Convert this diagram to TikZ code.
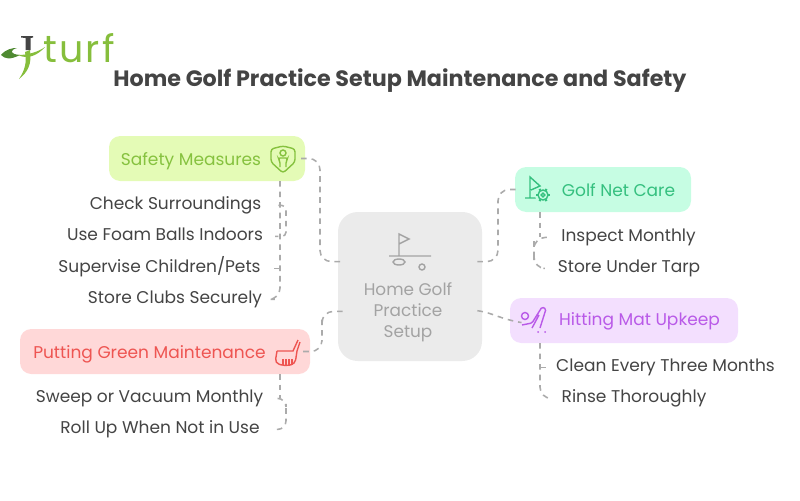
\documentclass[tikz,border=0pt]{standalone}
\usepackage{fontspec}
\setmainfont{Poppins}
\usetikzlibrary{positioning}
\definecolor{inkdark}{HTML}{444444}
\definecolor{inkhub}{HTML}{A3A3A3}
\definecolor{linkgray}{HTML}{ABABAB}
\definecolor{hubfill}{HTML}{EBEBEB}
\definecolor{safetyfill}{HTML}{E4FBB6}
\definecolor{safetyink}{HTML}{86C23F}
\definecolor{netfill}{HTML}{C6FDE3}
\definecolor{netink}{HTML}{35C07F}
\definecolor{hitfill}{HTML}{F3DFFE}
\definecolor{hitink}{HTML}{B95AE8}
\definecolor{puttfill}{HTML}{FFD8D8}
\definecolor{puttink}{HTML}{EE5552}
\definecolor{logogreen}{HTML}{86BE3C}
\definecolor{logodark}{HTML}{4F8A32}
\tikzset{
    box/.style={rounded corners=8pt, inner sep=0pt},
    boxtext/.style={font=\fontsize{12.1}{14}\selectfont, inner sep=0pt, text height=8.5pt, text depth=2.5pt, yshift=-1pt},
    item/.style={font=\fontsize{12.1}{14}\selectfont, text=inkdark, inner sep=2pt, text height=8.5pt, text depth=2.5pt, yshift=-1pt},
    link/.style={draw=linkgray, line width=1.1pt, dash pattern=on 4pt off 3.5pt, rounded corners=8pt},
    shieldicon/.pic={
      \draw[#1, line width=1pt, rounded corners=2pt] (-12,-10) -- (0,-13) -- (12,-10) -- (12,3) -- (0,14) -- (-12,3) -- cycle;
      \draw[#1, line width=1pt] (0,-6) circle (3);
      \draw[#1, line width=1pt, rounded corners=1.5pt] (-3,8) -- (-3,2) -- (-5,-1) -- (5,-1) -- (3,2) -- (3,8);
    },
    neticon/.pic={
      \draw[#1, line width=1pt] (-5,8) -- (8,8) (0,7) -- (0,-13) -- (10,-4) -- (1,0);
      \fill[netfill] (13,5) circle (8);
      \foreach \a in {0,60,...,300} \draw[#1, line width=1.5pt] (13,5) ++(\a:5) -- ++(\a:2);
      \draw[#1, line width=1pt] (13,5) circle (5) (13,5) circle (1.8);
    },
    hiticon/.pic={
      \draw[#1, line width=1pt] (-9,-4) circle (3.5);
      \draw[#1, line width=1pt, rounded corners=1pt] (-12,5) -- (-2,3) -- (8,-13) -- (12,-11) -- (6,8) (-2,8) -- (5,-5);
      \fill[#1] (4,12) circle (1) (11,12) circle (1);
    },
    broomicon/.pic={
      \draw[#1, line width=1pt] (-12,-2) -- (4,-2) -- (9,-13);
      \draw[#1, line width=1pt] (8,-2) -- (11,-11);
      \draw[#1, line width=1pt, rounded corners=3pt] (-12,-2) -- (-14,10) -- (-4,13) -- (6,11) -- (8,-2);
      \foreach \a in {-6,-3,0,3} \draw[#1, line width=.8pt] (\a,6) -- (\a,12);
    },
    hubicon/.pic={
      \draw[inkhub, line width=1pt] (-11,-2) -- (31,-2) (-1,-2) -- (-1,-24) -- (9,-19) -- (-1,-14);
      \draw[inkhub, line width=1pt] (-1,4) ellipse (6 and 3);
      \draw[inkhub, line width=1pt] (22,9) circle (3);
    },
}
\begin{document}
\begin{tikzpicture}[x=0.025cm, y=-0.025cm]
    \useasboundingbox (0,0) rectangle (800,500);

    % logo
    \fill[inkdark] (21,36) -- (33,36) -- (33,37.5) -- (30.5,38) -- (30.5,50) -- (25.5,50) -- (25.5,38) -- (21,37.5) -- cycle;
    \fill[logogreen] (30,50) .. controls (32,64) and (28,72) .. (19,79) .. controls (25,70) and (27,62) .. (25,52) -- cycle;
    \fill[logodark] (1,55) .. controls (6,49) and (12,48) .. (17,48) .. controls (10,50) and (9,54) .. (20,55) .. controls (10,60) and (5,59) .. (1,55) -- cycle;
    \fill[logogreen] (18,55) .. controls (28,55) and (38,52) .. (45,47) .. controls (38,55) and (28,60) .. (18,55) -- cycle;
    \node[inner sep=0pt, text=logogreen, font=\fontsize{27}{27}\selectfont\addfontfeature{LetterSpace=6}] (logo) at (79,48) {turf};

    % title
    \node[inner sep=0pt, text=inkdark, font=\fontsize{15.8}{18}\selectfont\bfseries, yshift=-1.2pt] (title) at (400,79) {Home Golf Practice Setup Maintenance and Safety};

    % hub
    \node[box, fill=hubfill, rounded corners=14pt, minimum width=144*0.025cm, minimum height=149*0.025cm] (hub) at (410,286.5) {};
    \pic at (400,258) {hubicon};
    \node[inner sep=0pt, text=inkhub, align=center, font=\fontsize{12}{14.9}\selectfont, yshift=-1.2pt] (hubtext) at (408,311) {Home Golf\\Practice\\Setup};

    % branches
    \node[box, fill=safetyfill, minimum width=196*0.025cm, minimum height=45*0.025cm] (safety) at (207,158.5) {};
    \node[boxtext, text=safetyink] (safetytext) at (191,160) {Safety Measures};
    \pic at (283,159) {shieldicon=safetyink};

    \node[box, fill=netfill, minimum width=176*0.025cm, minimum height=45*0.025cm] (net) at (603,189.5) {};
    \node[boxtext, text=netink] (nettext) at (618.5,191) {Golf Net Care};
    \pic at (530,190) {neticon=netink};

    \node[box, fill=hitfill, minimum width=228*0.025cm, minimum height=45*0.025cm] (hit) at (624,320.5) {};
    \node[boxtext, text=hitink] (hittext) at (639.5,320) {Hitting Mat Upkeep};
    \pic at (534,320) {hiticon=hitink};

    \node[box, fill=puttfill, minimum width=290*0.025cm, minimum height=45*0.025cm] (putt) at (165,351.5) {};
    \node[boxtext, text=puttink] (putttext) at (149.5,353) {Putting Green Maintenance};
    \pic at (289,353) {broomicon=puttink};

    % leaves
    \node[item] (check) at (175.5,204) {Check Surroundings};
    \node[item] (foam) at (165,235) {Use Foam Balls Indoors};
    \node[item] (kids) at (159.5,267) {Supervise Children/Pets};
    \node[item] (clubs) at (175,298) {Store Clubs Securely};
    \node[item] (sweep) at (149.5,397) {Sweep or Vacuum Monthly};
    \node[item] (roll) at (160,428) {Roll Up When Not in Use};
    \node[item] (inspect) at (628.5,236) {Inspect Monthly};
    \node[item] (tarp) at (629,267) {Store Under Tarp};
    \node[item] (clean) at (665.5,366) {Clean Every Three Months};
    \node[item] (rinse) at (634,397) {Rinse Thoroughly};

    % free ends of the trunks
    \coordinate (safetyfoot) at (280,181);
    \coordinate (safetyside) at (286,220);
    \coordinate (puttfoot) at (280,374);
    \coordinate (puttside) at (286,412);
    \coordinate (netfoot) at (540,212);
    \coordinate (netside) at (534,250);
    \coordinate (hitfoot) at (540,343);

    % hub links
    \draw[link, shorten <=-3pt, shorten >=-3.5pt] (safety.east) -| (320,210) |- (hub.161);
    \draw[link, shorten <=-3.5pt, shorten >=-3.5pt] (hub.19) -| (498,225) |- (net.west);
    \draw[link, rounded corners=0pt, shorten <=-3.5pt, shorten >=-8.5pt] (hub.-19) to[out=-8, in=170] (hit.west);
    \draw[link, shorten <=-3.5pt, shorten >=-7pt] (hub.199) -| (322,330) |- (putt.east);

    % leaf links
    \draw[link, shorten >=7pt] (safetyfoot) |- (clubs.east);
    \draw[link, shorten >=6.5pt, rounded corners=0pt] (safetyfoot |- kids.east) -- (kids.east);
    \draw[link, shorten <=10pt, shorten >=6.5pt, rounded corners=3pt] (check.east) -| (safetyside) |- (foam.east);
    \draw[link, rounded corners=0pt] (puttfoot) -- (puttfoot |- sweep.east);
    \draw[link, shorten <=8pt, shorten >=8.5pt, rounded corners=6pt] (sweep.east) -| (puttside) |- (roll.east);
    \draw[link, rounded corners=0pt] (netfoot) -- (netfoot |- inspect.west);
    \draw[link, shorten <=8pt, shorten >=8pt] (inspect.west) -| (netside) |- (tarp.west);
    \draw[link, shorten >=5.5pt] (hitfoot) |- (rinse.west);
    \draw[link, rounded corners=0pt, shorten >=5pt] (hitfoot |- clean.west) -- (clean.west);
\end{tikzpicture}
\end{document}
